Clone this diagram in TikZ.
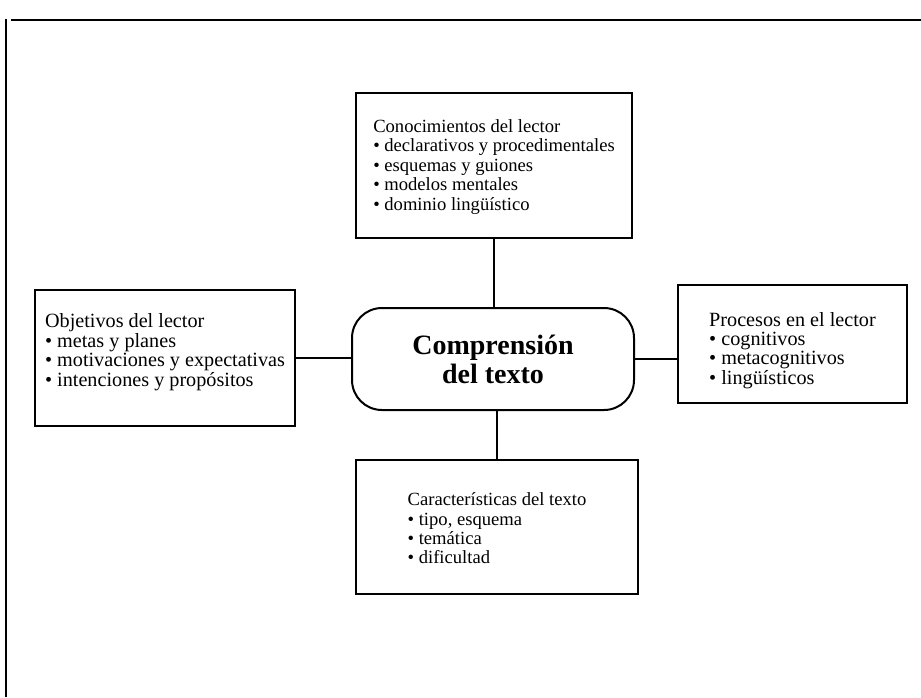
\documentclass[tikz,border=0pt]{standalone}
\usepackage{fontspec}
\setmainfont{Liberation Serif}
\usetikzlibrary{positioning}
% lines of a box, moved up or down inside it
\newcommand{\factorlines}[2]{\raisebox{#1}[\height][\depth]{\begin{tabular}{@{}l@{}}#2\end{tabular}}}
\tikzset{
  factorbox/.style={draw, line width=0.9pt, inner sep=0pt,
    font=\fontsize{9.3}{9.7}\selectfont},
  widebox/.style={factorbox, font=\fontsize{10.1}{9.6}\selectfont},
  centralbox/.style={draw, line width=1pt, rounded corners=15pt, align=center,
    minimum width=141pt, minimum height=51pt,
    font=\fontsize{14}{14.5}\selectfont\bfseries},
  link/.style={line width=0.9pt}
}
\begin{document}
\begin{tikzpicture}[x=0.5pt,y=-0.5pt]
      \useasboundingbox (0,0) rectangle (921,697);
      % frame of the scanned page
      \draw[line width=1.3pt] (6,697) -- (6,19);
      \draw[line width=1.3pt] (11,20) -- (921,20);
      \draw
        (493,359) node[centralbox] (comprension){Comprensión\\del texto}
        (494,165.5) node[factorbox, minimum width=138pt, minimum height=72.5pt] (conocimientos)
          {\factorlines{-1pt}{Conocimientos del lector\\• declarativos y procedimentales\\• esquemas y guiones\\• modelos mentales\\• dominio lingüístico}}
        (165,358) node[widebox, minimum width=130pt, minimum height=68pt] (objetivos)
          {\factorlines{2.5pt}{Objetivos del lector\\• metas y planes\\• motivaciones y expectativas\\• intenciones y propósitos}}
        (792.5,344) node[widebox, minimum width=114.5pt, minimum height=59pt] (procesos)
          {\factorlines{-3.5pt}{Procesos en el lector\\• cognitivos\\• metacognitivos\\• lingüísticos}}
        (497,527) node[factorbox, minimum width=141pt, minimum height=67pt] (caracteristicas)
          {\factorlines{-2pt}{Características del texto\\• tipo, esquema\\• temática\\• dificultad}};
      \begin{scope}[link]
        \draw (conocimientos.south) to (conocimientos.south |- comprension.north);
        \draw (caracteristicas.north) to (caracteristicas.north |- comprension.south);
        \draw (objetivos.east) to (objetivos.east -| comprension.west);
        \draw (comprension.east) to (comprension.east -| procesos.west);
      \end{scope}
    \end{tikzpicture}
\end{document}
